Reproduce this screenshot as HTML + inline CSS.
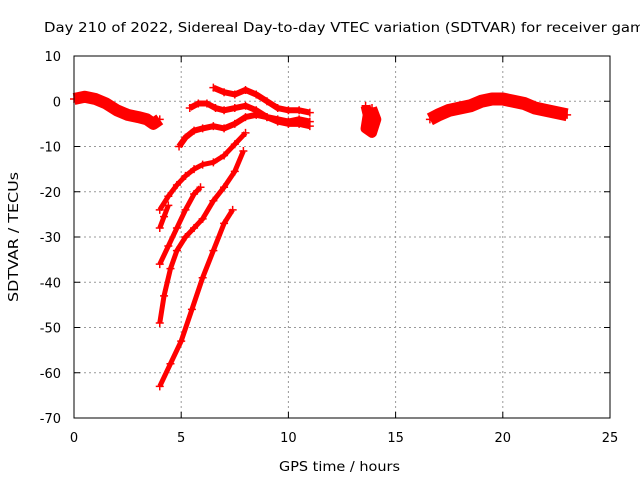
<!DOCTYPE html>
<html><head><meta charset="utf-8"><style>
body{margin:0;background:#fff}
svg{display:block;font-family:"DejaVu Sans","Liberation Sans",sans-serif;font-size:13px}
</style></head><body>
<svg id="c" width="640" height="480">
<text x="44" y="32" textLength="610" lengthAdjust="spacingAndGlyphs">Day 210 of 2022, Sidereal Day-to-day VTEC variation (SDTVAR) for receiver gamg</text>
<text x="279" y="471" textLength="121" lengthAdjust="spacingAndGlyphs">GPS time / hours</text>
<text transform="translate(18,302) rotate(-90)" textLength="130" lengthAdjust="spacingAndGlyphs">SDTVAR / TECUs</text>
<g id="grid"></g>
<g id="ticks"></g>
<g id="series"></g>
<rect x="74" y="56" width="536" height="362" fill="none" stroke="#000"/>
</svg>
<script>
const xTicks=[0,5,10,15,20,25];
const yTicks=[10,0,-10,-20,-30,-40,-50,-60,-70];
const arcA=[[4,-63],[4.5,-58],[5,-53],[5.5,-46],[6,-39],[6.5,-33],[7,-27],[7.4,-24]];
const arcB=[[4,-49],[4.2,-43],[4.5,-37],[4.8,-33],[5.2,-30],[5.6,-28],[6,-26],[6.5,-22],[7,-19],[7.5,-15.5],[7.9,-11]];
const arcC=[[4,-36],[4.4,-32],[4.8,-28],[5.2,-24],[5.6,-20.5],[5.9,-19]];
const arcD=[[4,-28],[4.2,-25.5],[4.4,-23]];
const arcE=[[4,-24],[4.4,-21],[4.8,-18.5],[5.2,-16.5],[5.6,-15],[6,-14],[6.5,-13.5],[7,-12],[7.5,-9.5],[8,-7]];
const arcF=[[4.9,-10],[5.2,-8],[5.6,-6.5],[6,-6],[6.5,-5.5],[7,-6],[7.5,-5],[8,-3.5],[8.5,-3],[9,-3.5],[9.5,-4.5],[10,-5],[10.5,-5],[11,-5.5]];
const arcG=[[5.4,-1.5],[5.8,-0.5],[6.2,-0.5],[6.6,-1.5],[7,-2],[7.5,-1.5],[8,-1],[8.5,-2],[9,-3.5],[9.5,-4],[10,-4.5],[10.5,-4],[11,-4.5]];
const arcH=[[6.5,3],[7,2],[7.5,1.5],[8,2.5],[8.5,1.5],[9,0],[9.5,-1.5],[10,-2],[10.5,-2],[11,-2.5]];
const arcI=[[13.6,-1],[13.7,-3],[13.6,-6],[13.9,-7],[14.1,-4],[13.9,-1.5]];
const arcJ=[[0,0.5],[0.5,1],[1,0.5],[1.5,-0.5],[2,-2],[2.5,-3],[3,-3.5],[3.4,-4],[3.7,-5],[4,-4]];
const arcK=[[16.6,-4],[17,-3],[17.5,-2],[18,-1.5],[18.5,-1],[19,0],[19.5,0.5],[20,0.5],[20.5,0],[21,-0.5],[21.5,-1.5],[22,-2],[22.5,-2.5],[23,-3]];
const seriesList=[arcA,arcB,arcC,arcD,arcE,arcF,arcG,arcH,arcI,arcJ,arcK];
const widths=[5,5,5,5,5,6,6,6,10,12,13];
const X=v=>74+v*536/25, Y=v=>56+(10-v)*362/80;
const ns="http://www.w3.org/2000/svg";
const g=document.getElementById('grid'),t=document.getElementById('ticks'),s=document.getElementById('series');
function mk(tag,a,p){const e=document.createElementNS(ns,tag);for(const k in a)e.setAttribute(k,a[k]);p.appendChild(e);return e;}
xTicks.forEach(v=>{const x=X(v);
 if(v>0&&v<25){const l=mk('line',{x1:x,y1:56,x2:x,y2:418,stroke:'#999','stroke-dasharray':'2,3'},g);
 }
 mk('line',{x1:x,y1:418,x2:x,y2:412,stroke:'#000'},t);mk('line',{x1:x,y1:56,x2:x,y2:62,stroke:'#000'},t);
 const tx=mk('text',{x:x,y:442,'text-anchor':'middle'},t);tx.textContent=v;
 });
yTicks.forEach(v=>{const y=Y(v);
 if(v<10&&v>-70){const l=mk('line',{x1:74,y1:y,x2:610,y2:y,stroke:'#999','stroke-dasharray':'2,3'},g);
 }
 mk('line',{x1:74,y1:y,x2:80,y2:y,stroke:'#000'},t);mk('line',{x1:610,y1:y,x2:604,y2:y,stroke:'#000'},t);
 const tx=mk('text',{x:61,y:y+5,'text-anchor':'end'},t);tx.textContent=v;
 });
seriesList.forEach((arr,i)=>{
 const p=mk('polyline',{points:arr.map(d=>X(d[0])+','+Y(d[1])).join(' '),fill:'none',stroke:'#f00','stroke-width':widths[i],'stroke-linejoin':'round','stroke-linecap':'butt'},s);
 
 
 arr.forEach(d=>{const x=X(d[0]),y=Y(d[1]);
  const m=mk('path',{d:`M${x-4},${y}h8M${x},${y-4}v8`,stroke:'#f00','stroke-width':1.5},s);
  
  });
});
</script>
</body></html>
